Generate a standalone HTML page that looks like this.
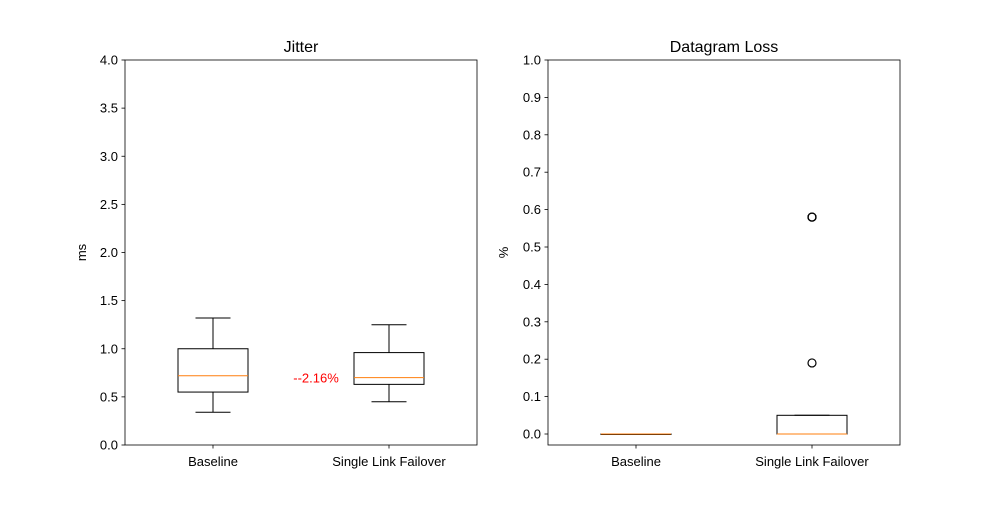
<!DOCTYPE html>
<html><head><meta charset="utf-8"><style>
body{margin:0;background:#fff;}
svg text{font-family:"Liberation Sans","DejaVu Sans",sans-serif;fill:#000;}
</style></head><body>
<svg id="chart" width="1000" height="500" xmlns="http://www.w3.org/2000/svg"></svg>
<script>
// Jitter data (ms)
const jitterCategories = ["Baseline", "Single Link Failover"];
const jitterLow = [0.34, 0.45];
const jitterQ1 = [0.55, 0.63];
const jitterMedian = [0.72, 0.70];
const jitterQ3 = [1.00, 0.96];
const jitterHigh = [1.32, 1.25];
const jitterOutliers = [[], []];
const jitterTicks = [0, 0.5, 1, 1.5, 2, 2.5, 3, 3.5, 4];
const jitterAnnotation = "--2.16%";
const jitterAnnotationValue = 0.70;
// Datagram loss data (%)
const lossCategories = ["Baseline", "Single Link Failover"];
const lossLow = [0, 0];
const lossQ1 = [0, 0];
const lossMedian = [0, 0];
const lossQ3 = [0, 0.05];
const lossHigh = [0, 0.05];
const lossOutliers = [[], [0.19, 0.58, 0.58, 0.58]];
const lossTicks = [0, 0.1, 0.2, 0.3, 0.4, 0.5, 0.6, 0.7, 0.8, 0.9, 1.0];

const svg = document.getElementById('chart');
const NS = "http://www.w3.org/2000/svg";
function mk(tag, attrs, parent){const e=document.createElementNS(NS,tag);for(const k in attrs)e.setAttribute(k,attrs[k]);(parent||svg).appendChild(e);return e;}

function panel(cfg){
  const g = mk('g',{});
  
  
  const {x0,x1,yTop,yBot,ymin,ymax} = cfg;
  const ys = v => yBot - (v - ymin) / (ymax - ymin) * (yBot - yTop);
  const n = cfg.cats.length;
  const xs = i => x0 + (i + 0.5) / n * (x1 - x0);
  cfg.ticks.forEach(t => {
    const y = ys(t);
    const tk = mk('line',{x1:x0-3.5,x2:x0,y1:y,y2:y,stroke:'#000','stroke-width':0.8},g);
    
    
    const lb = mk('text',{x:x0-7,y:y+4.5,'text-anchor':'end','font-size':13},g);
    lb.textContent = t.toFixed(1);
    
    
  });
  cfg.cats.forEach((c,i) => {
    const cx = xs(i), hw = 35, cw = 17.5;
    const bg = mk('g',{},g);
    
    
    mk('line',{x1:cx,x2:cx,y1:ys(cfg.q1[i]),y2:ys(cfg.low[i]),stroke:'#000','stroke-width':1},bg);
    mk('line',{x1:cx,x2:cx,y1:ys(cfg.q3[i]),y2:ys(cfg.high[i]),stroke:'#000','stroke-width':1},bg);
    mk('line',{x1:cx-cw,x2:cx+cw,y1:ys(cfg.low[i]),y2:ys(cfg.low[i]),stroke:'#000','stroke-width':1},bg);
    mk('line',{x1:cx-cw,x2:cx+cw,y1:ys(cfg.high[i]),y2:ys(cfg.high[i]),stroke:'#000','stroke-width':1},bg);
    mk('rect',{x:cx-hw,y:ys(cfg.q3[i]),width:2*hw,height:Math.max(0.5,ys(cfg.q1[i])-ys(cfg.q3[i])),fill:'none',stroke:'#000','stroke-width':1},bg);
    mk('line',{x1:cx-hw,x2:cx+hw,y1:ys(cfg.med[i]),y2:ys(cfg.med[i]),stroke:'#ff7f0e','stroke-width':1},bg);
    cfg.out[i].forEach(v => {
      const o = mk('circle',{cx:cx,cy:ys(v),r:4,fill:'none',stroke:'#000','stroke-width':1.2},bg);
      
      
    });
    mk('line',{x1:cx,x2:cx,y1:yBot,y2:yBot+3.5,stroke:'#000','stroke-width':0.8},g);
    const xl = mk('text',{x:cx,y:yBot+21,'text-anchor':'middle','font-size':13},g);
    xl.textContent = c;
    
    
  });
  const fr = mk('rect',{x:x0,y:yTop,width:x1-x0,height:yBot-yTop,fill:'none',stroke:'#000','stroke-width':0.8},g);
  
  
  const tt = mk('text',{x:(x0+x1)/2,y:yTop-8,'text-anchor':'middle','font-size':16},g);
  tt.textContent = cfg.title;
  
  
  const yl = mk('text',{x:0,y:0,'text-anchor':'middle','font-size':13,transform:`translate(${cfg.ylx},${(yTop+yBot)/2}) rotate(-90)`},g);
  yl.textContent = cfg.ylabel;
  
  
  return {ys, xs, g};
}

const p1 = panel({name:'jitter-panel',x0:125,x1:477,yTop:60,yBot:445,ymin:0,ymax:4,cats:jitterCategories,
  low:jitterLow,q1:jitterQ1,med:jitterMedian,q3:jitterQ3,high:jitterHigh,out:jitterOutliers,ticks:jitterTicks,
  title:'Jitter',ylabel:'ms',ylx:86});
const ann = mk('text',{x:(p1.xs(0)+p1.xs(1))/2+15,y:p1.ys(jitterAnnotationValue)+5,'text-anchor':'middle','font-size':13,style:'fill:#ff0000'},p1.g);
ann.textContent = jitterAnnotation;



panel({name:'datagram-loss-panel',x0:548,x1:900,yTop:60,yBot:445,ymin:-0.0294,ymax:1.0,cats:lossCategories,
  low:lossLow,q1:lossQ1,med:lossMedian,q3:lossQ3,high:lossHigh,out:lossOutliers,ticks:lossTicks,
  title:'Datagram Loss',ylabel:'%',ylx:508});
</script>
</body></html>
